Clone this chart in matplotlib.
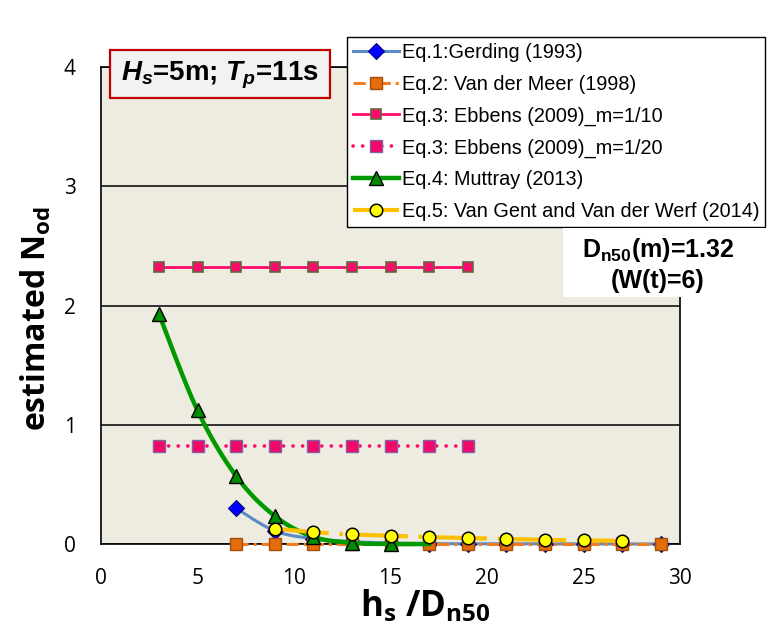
import numpy as np
import matplotlib
matplotlib.use("Agg")
import matplotlib.pyplot as plt
from matplotlib.patches import Rectangle

plt.rcParams['mathtext.fontset'] = 'custom'
plt.rcParams['mathtext.it'] = 'Liberation Sans:italic:bold'
plt.rcParams['mathtext.rm'] = 'Liberation Sans:bold'
plt.rcParams['mathtext.bf'] = 'Liberation Sans:bold'

# ---------------- data ----------------
gerding_x = [7, 9, 11, 13, 15, 17, 19, 21, 23, 25, 27, 29]
gerding_y = [0.30, 0.11, 0.045, 0.02, 0.008, 0.003, 0.002, 0.001, 0.001, 0.0, 0.0, 0.0]

vdm_x = [7, 9, 11, 13, 15, 17, 19, 21, 23, 25, 27, 29]
vdm_y = [0.0] * 12

ebb10_x = [3, 5, 7, 9, 11, 13, 15, 17, 19]
ebb10_y = [2.32] * 9

ebb20_x = [3, 5, 7, 9, 11, 13, 15, 17, 19]
ebb20_y = [0.82] * 9

mut_x = [3, 5, 7, 9, 11, 13, 15, 17]
mut_y = [1.93, 1.12, 0.57, 0.235, 0.06, 0.01, 0.0, 0.0]
mut_marked = 7  # markers shown on the first 7 points

vg_x = [9, 11, 13, 15, 17, 19, 21, 23, 25, 27]
vg_y = [0.128, 0.10, 0.08, 0.07, 0.058, 0.05, 0.042, 0.034, 0.031, 0.026]

labels = ["Eq.1:Gerding (1993)",
          "Eq.2: Van der Meer (1998)",
          "Eq.3: Ebbens (2009)_m=1/10",
          "Eq.3: Ebbens (2009)_m=1/20",
          "Eq.4: Muttray (2013)",
          "Eq.5: Van Gent and Van der Werf (2014)"]

xticks = [0, 5, 10, 15, 20, 25, 30]
yticks = [0, 1, 2, 3, 4]


def smooth(x, y, n=16):
    """Excel-like Bezier smoothing through the given points."""
    P = np.column_stack([x, y]).astype(float)
    m = len(P)
    out = []
    for i in range(m - 1):
        p0 = P[i - 1] if i > 0 else P[i]
        p3 = P[i + 2] if i + 2 < m else P[i + 1]
        c1 = P[i] + (P[i + 1] - p0) / 6.0
        c2 = P[i + 1] - (p3 - P[i]) / 6.0
        t = np.linspace(0, 1, n, endpoint=False)[:, None]
        seg = ((1 - t) ** 3) * P[i] + 3 * ((1 - t) ** 2) * t * c1 + 3 * (1 - t) * t ** 2 * c2 + t ** 3 * P[i + 1]
        out.append(seg)
    out.append(P[-1:])
    S = np.vstack(out)
    idx = [i * n for i in range(m)]
    return S[:, 0], S[:, 1], idx


W, H = 773, 633
fig = plt.figure(figsize=(W / 100, H / 100), dpi=100)
ax = fig.add_axes([101 / W, 1 - 544 / H, 579 / W, 477 / H])
ax.set_facecolor('#EEEBE1')
ax.set_xlim(0, 30)
ax.set_ylim(0, 4)
ax.set_xticks(xticks)
ax.set_yticks(yticks)
ax.grid(axis='y', color='black', lw=1.1, zorder=0)
ax.set_axisbelow(True)
for s in ax.spines.values():
    s.set_color('black')
    s.set_linewidth(1.2)
ax.tick_params(length=0)
ax.tick_params(axis='y', pad=18)
ax.tick_params(axis='x', pad=17)
for lab in ax.get_xticklabels() + ax.get_yticklabels():
    lab.set_fontfamily('Open Sans')
    lab.set_fontsize(15)
    lab.set_color('black')

# Gerding
sx, sy, idx = smooth(gerding_x, gerding_y)
ax.plot(sx, sy, color='#5B8BC6', lw=2.2, marker='D', markevery=idx, ms=8,
        mfc='#0000FF', mec='#00007A', mew=0.8, label=labels[0], clip_on=False, zorder=3)
# Van der Meer
ax.plot(vdm_x, vdm_y, color='#F47A20', lw=2.2, ls=(0, (4, 1.6, 1, 1.6)), marker='s', ms=9,
        mfc='#E46C0A', mec='#A0500A', mew=1.0, label=labels[1], clip_on=False, zorder=3.1)
# Ebbens 1/10
ax.plot(ebb10_x, ebb10_y, color='#FF0A6C', lw=2.0, marker='s', ms=6.5,
        mfc='#FF0A6C', mec='#5E6B3A', mew=1.2, label=labels[2], zorder=3.2)
# Ebbens 1/20
ax.plot(ebb20_x, ebb20_y, color='#FF0A6C', lw=2.6, ls=(0, (0.05, 2.6)), dash_capstyle='round',
        marker='s', ms=8, mfc='#F0086A', mec='#8064A2', mew=1.0, label=labels[3], zorder=3.3)
# Muttray
sx, sy, idx = smooth(mut_x, mut_y)
ax.plot(sx, sy, color='#009A00', lw=3.2, marker='^', markevery=idx[:mut_marked], ms=10,
        mfc='#008C00', mec='black', mew=1.0, label=labels[4], clip_on=False, zorder=3.4)
# Van Gent
sx, sy, idx = smooth(vg_x, vg_y)
ax.plot(sx, sy, color='#FFC000', lw=3.0, ls=(0, (13, 2.6, 0.8, 2.6)), marker='o', markevery=idx, ms=9,
        mfc='#FFFF00', mec='black', mew=1.1, label=labels[5], clip_on=False, zorder=3.5)

leg = ax.legend(loc='upper left', bbox_to_anchor=(347 / W, 1 - 37 / H), bbox_transform=fig.transFigure,
                prop={'family': 'Liberation Sans', 'size': 14.3}, frameon=True, fancybox=False,
                edgecolor='black', framealpha=1, borderpad=0.3, labelspacing=0.64,
                handlelength=2.3, handletextpad=0.15, borderaxespad=0, numpoints=1)
leg.get_frame().set_linewidth(1.0)
leg.set_zorder(10)

# axis labels
fig.text(37 / W, 1 - 318 / H, r"estimated N$_{\mathregular{od}}$", rotation=90, ha='center', va='center',
         fontfamily='Open Sans', fontweight='bold', fontsize=23)
fig.text(425 / W, 1 - 607 / H, r"h$_{\mathregular{s}}$ /D$_{\mathregular{n50}}$", ha='center', va='center',
         fontfamily='Open Sans', fontweight='bold', fontsize=25)

# Hs / Tp box
fig.add_artist(Rectangle((110 / W, 1 - 98 / H), 220 / W, 48 / H, transform=fig.transFigure,
                         fc='#F2F2F2', ec='#C00000', lw=1.6, zorder=5))
fig.text(220 / W, 1 - 75 / H, r"$H_s$=5m; $T_p$=11s", ha='center', va='center',
         fontfamily='Liberation Sans', fontweight='bold', fontsize=20, zorder=6)

# Dn50 box
fig.add_artist(Rectangle((563 / W, 1 - 297 / H), 207 / W, 69 / H, transform=fig.transFigure,
                         fc='white', ec='none', zorder=5))
fig.text(658 / W, 1 - 250 / H, r"D$_{\mathregular{n50}}$(m)=1.32", ha='center', va='center',
         fontfamily='Liberation Sans', fontweight='bold', fontsize=18, zorder=6)
fig.text(658 / W, 1 - 281 / H, "(W(t)=6)", ha='center', va='center',
         fontfamily='Liberation Sans', fontweight='bold', fontsize=18, zorder=6)

fig.savefig("out.png", dpi=100, facecolor='white')
